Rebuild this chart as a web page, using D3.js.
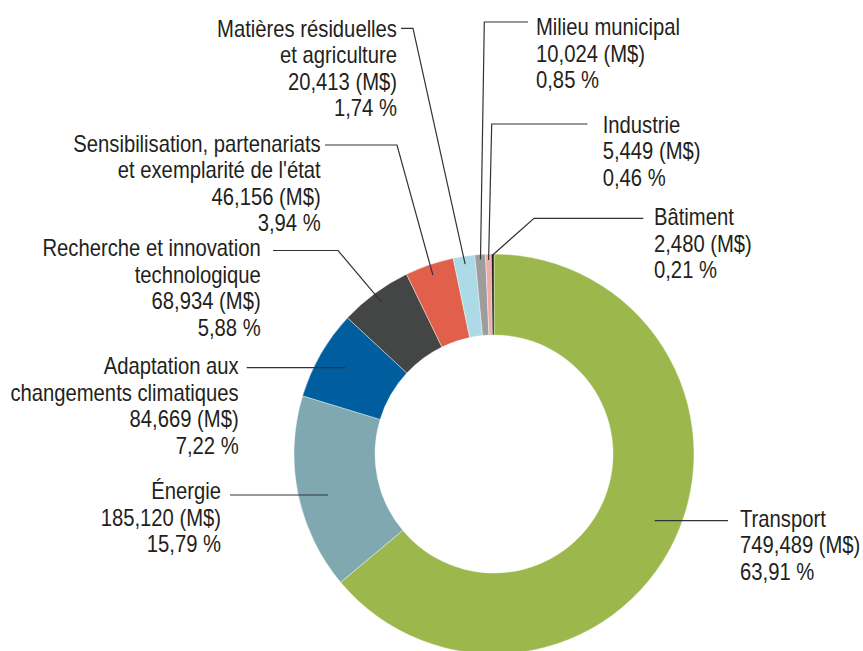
<!DOCTYPE html>
<html><head><meta charset="utf-8">
<script src="https://cdn.jsdelivr.net/npm/d3@7"></script>
<style>
html,body{margin:0;padding:0;background:#fff;}
svg{display:block;}
text{font-family:"Liberation Sans","Arial",sans-serif;fill:#231f20;}
</style></head>
<body>
<svg id="chart" width="863" height="651"></svg>
<script>
// ---- data ----
const categories = ["Transport","Énergie","Adaptation aux changements climatiques","Recherche et innovation technologique","Sensibilisation, partenariats et exemplarité de l'état","Matières résiduelles et agriculture","Milieu municipal","Industrie","Bâtiment"];
const values = [749.489,185.120,84.669,68.934,46.156,20.413,10.024,5.449,2.480];
const valueLabels = ["749,489 (M$)","185,120 (M$)","84,669 (M$)","68,934 (M$)","46,156 (M$)","20,413 (M$)","10,024 (M$)","5,449 (M$)","2,480 (M$)"];
const percentLabels = ["63,91 %","15,79 %","7,22 %","5,88 %","3,94 %","1,74 %","0,85 %","0,46 %","0,21 %"];
const nameLines = [["Transport"],["Énergie"],["Adaptation aux","changements climatiques"],["Recherche et innovation","technologique"],["Sensibilisation, partenariats","et exemplarité de l'état"],["Matières résiduelles","et agriculture"],["Milieu municipal"],["Industrie"],["Bâtiment"]];
const colors = ["#9cb84c","#7fa8b1","#005e9e","#444645","#e0604b","#acdae6","#9d9d9c","#efadaa","#231f20"];

// ---- layout ----
const cx = 494, cy = 454, rOuter = 200, rInner = 119;
const fontSize = 23, lineH = 26.6, squeeze = 0.88;
const layout = [
  {tx:740, ty:526.7, anchor:"start", type:"h", lineY:520.7, lineX:728, r:174},
  {tx:221, ty:499.3, anchor:"end", type:"h", lineY:495, lineX:230, r:171},
  {tx:238.7, ty:374.3, anchor:"end", type:"h", lineY:367.7, lineX:246.7, r:172},
  {tx:260.7, ty:256, anchor:"end", type:"e", lineY:250.5, lineX:273, elbowX:338, r:189},
  {tx:320.7, ty:151.7, anchor:"end", type:"e", lineY:145, lineX:325, elbowX:397, r:189},
  {tx:397, ty:36.7, anchor:"end", type:"e", lineY:28.3, lineX:401, elbowX:413, r:192},
  {tx:536, ty:35, anchor:"start", type:"e", lineY:22, lineX:528, elbowX:484.3, r:195},
  {tx:602.7, ty:132.7, anchor:"start", type:"e", lineY:124, lineX:587.5, elbowX:491.7, r:194},
  {tx:654, ty:225, anchor:"start", type:"e", lineY:218.3, lineX:643.3, elbowX:534, r:199}
];

const svg = d3.select("#chart");
const data = categories.map((c,i)=>({name:c, value:values[i], i}));
const pie = d3.pie().value(d=>d.value).sort(null);
const arcs = pie(data);
const arc = d3.arc().innerRadius(rInner).outerRadius(rOuter);
const g = svg.append("g").attr("transform",`translate(${cx},${cy})`);
g.selectAll("path").data(arcs).join("path")
  .attr("d",arc)
  .attr("fill",d=>colors[d.index])
  .attr("stroke","#fff").attr("stroke-width",0.4);

// leader lines
const lines = svg.append("g").attr("fill","none").attr("stroke","#333").attr("stroke-width",1.2);
arcs.forEach((a,i)=>{
  const L = layout[i];
  const mid = (a.startAngle+a.endAngle)/2;
  let pts;
  if(L.type==="h"){
    const dy = L.lineY-cy;
    const sign = Math.sin(mid)<0?-1:1;
    const ex = cx + sign*Math.sqrt(L.r*L.r-dy*dy);
    pts = [[L.lineX,L.lineY],[ex,L.lineY]];
  } else {
    const ex = cx + L.r*Math.sin(mid), ey = cy - L.r*Math.cos(mid);
    pts = [[L.lineX,L.lineY],[L.elbowX,L.lineY],[ex,ey]];
  }
  lines.append("path").attr("d",d3.line()(pts));
});

// labels
const labels = svg.append("g").attr("font-size",fontSize);
arcs.forEach((a,i)=>{
  const L = layout[i];
  const rows = nameLines[i].concat([valueLabels[i], percentLabels[i]]);
  const t = labels.append("text").attr("text-anchor",L.anchor)
    .attr("transform",`translate(${L.tx},${L.ty}) scale(${squeeze},1)`);
  rows.forEach((r,k)=>{
    t.append("tspan").attr("x",0).attr("y",k*lineH).text(r);
  });
});
</script>
</body></html>
